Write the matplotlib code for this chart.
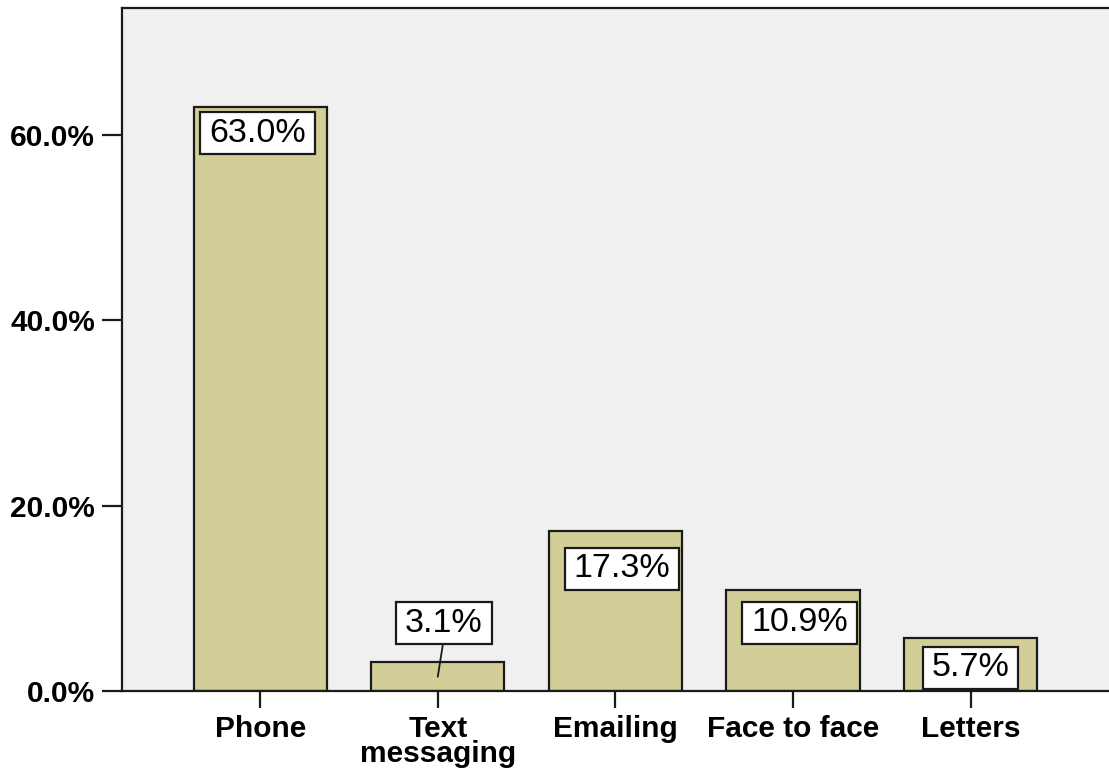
import matplotlib
matplotlib.use('Agg')
import matplotlib.pyplot as plt
import matplotlib.ticker as ticker
from matplotlib.path import Path

plt.rcParams['font.family'] = ['Liberation Sans', 'DejaVu Sans']

#========================================
# data
categories = ['Phone', 'Text\nmessaging', 'Emailing', 'Face to face', 'Letters']
percents = [63.0, 3.1, 17.3, 10.9, 5.7]
bar_labels = ['63.0%', '3.1%', '17.3%', '10.9%', '5.7%']
yticks = [0, 20, 40, 60]

# label placement (pixel offsets from anchor point)
label_dx = [-2.5, 6, 6.5, 6.5, 0]
label_dy = [-26, 53.5, -38, -33, -29.5]
leader = [False, True, False, False, False]


def wide_box(x0, y0, width, height, mutation_size):
    # label box with more room left/right than top/bottom
    px = 0.26 * mutation_size
    py = 0.16 * mutation_size
    x0, y0 = x0 - px, y0 - py
    x1, y1 = x0 + width + 2 * px, y0 + height + 2 * py
    return Path([(x0, y0), (x1, y0), (x1, y1), (x0, y1), (x0, y0)],
                [Path.MOVETO, Path.LINETO, Path.LINETO, Path.LINETO, Path.CLOSEPOLY])


#========================================
fig = plt.figure(figsize=(11.09, 7.72), dpi=100)
ax = fig.add_axes([122/1109, 81/772, 1 - 122/1109 + 0.05, (691 - 8)/772])
ax.set_facecolor('#f0f0f0')

x = list(range(len(categories)))
ax.bar(x, percents, width=0.75, color='#d3ce97', edgecolor='#1a1a1a', linewidth=1.6, zorder=2)

ax.set_xlim(-0.778, 4.78 + 0.05 * 1109 / 178)
ax.set_ylim(0, 73.7)

ax.set_yticks(yticks)
ax.yaxis.set_major_formatter(ticker.FuncFormatter(lambda v, pos: '{:.1f}%'.format(v)))
ax.set_xticks(x)
ax.set_xticklabels(categories, fontweight='bold', fontsize=21.5, linespacing=0.88)
for lab in ax.get_yticklabels():
    lab.set_fontweight('bold')
    lab.set_fontsize(21.5)
ax.tick_params(axis='y', length=14.4, width=1.6, color='#1a1a1a', direction='out', pad=5)
ax.tick_params(axis='x', length=12.2, width=1.6, color='#1a1a1a', direction='out', pad=5)

for side in ['left', 'top', 'bottom', 'right']:
    ax.spines[side].set_linewidth(1.6)
    ax.spines[side].set_color('#1a1a1a')

# value labels
for i, (v, lab) in enumerate(zip(percents, bar_labels)):
    box = dict(boxstyle=wide_box, facecolor='white', edgecolor='#1a1a1a', linewidth=1.6)
    if leader[i]:
        ax.annotate(lab, xy=(i, v / 2), xytext=(label_dx[i] * 0.72, label_dy[i] * 0.72),
                    textcoords='offset points', ha='center', va='center', fontsize=24.5,
                    bbox=box, zorder=5,
                    arrowprops=dict(arrowstyle='-', color='#1a1a1a', lw=1.3,
                                    shrinkA=0, shrinkB=0, relpos=(0.5, 0)))
    else:
        ax.annotate(lab, xy=(i, v), xytext=(label_dx[i] * 0.72, label_dy[i] * 0.72),
                    textcoords='offset points', ha='center', va='center', fontsize=24.5,
                    bbox=box, zorder=5)

plt.savefig('out.png', dpi=100)
